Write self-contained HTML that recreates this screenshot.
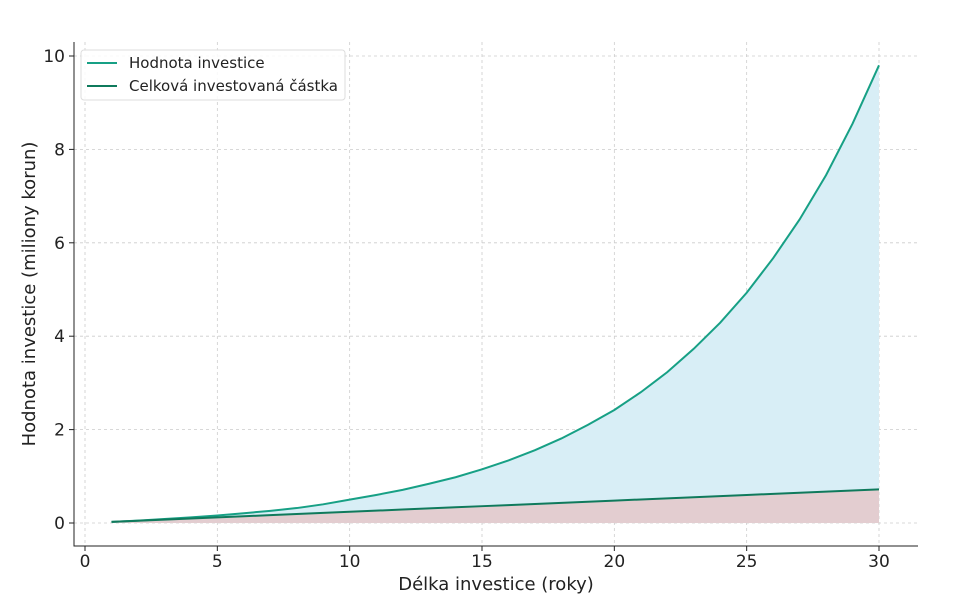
<!DOCTYPE html>
<html><head><meta charset="utf-8"><style>
body{margin:0;background:#fff;}
svg{display:block;font-family:"DejaVu Sans","Liberation Sans",sans-serif;}
</style></head><body>
<svg id="chart" width="955" height="602"></svg>
<script>
const years=[1,2,3,4,5,6,7,8,9,10,11,12,13,14,15,16,17,18,19,20,21,22,23,24,25,26,27,28,29,30];
const valueSeries=[0.024,0.05,0.085,0.12,0.16,0.21,0.26,0.32,0.40,0.50,0.60,0.71,0.84,0.98,1.15,1.34,1.56,1.81,2.10,2.42,2.80,3.23,3.73,4.29,4.93,5.67,6.50,7.45,8.55,9.80];
const investedSeries=[0.024,0.048,0.072,0.096,0.12,0.144,0.168,0.192,0.216,0.24,0.264,0.288,0.312,0.336,0.36,0.384,0.408,0.432,0.456,0.48,0.504,0.528,0.552,0.576,0.6,0.624,0.648,0.672,0.696,0.72];
const xTicks=[0,5,10,15,20,25,30];
const yTicks=[0,2,4,6,8,10];
const svgEl=document.getElementById('chart');
const NS='http://www.w3.org/2000/svg';
const X=v=>85+v*(879-85)/30;
const Y=v=>523-v*46.7;
function mk(t,a,p){const e=document.createElementNS(NS,t);for(const k in a)e.setAttribute(k,a[k]);(p||svgEl).appendChild(e);return e;}
xTicks.forEach(t=>{const l=mk('line',{x1:X(t),x2:X(t),y1:42,y2:546,stroke:'#ccc','stroke-dasharray':'3,3','stroke-width':0.8});

});
yTicks.forEach(t=>{const l=mk('line',{x1:74,x2:918,y1:Y(t),y2:Y(t),stroke:'#ccc','stroke-dasharray':'3,3','stroke-width':0.8});

});
const topPts=years.map((y,i)=>X(y)+','+Y(valueSeries[i])).join(' ');
const midPts=years.map((y,i)=>X(y)+','+Y(investedSeries[i])).join(' ');
const midRev=years.map((y,i)=>X(y)+','+Y(investedSeries[i])).reverse().join(' ');
const f1=mk('polygon',{points:topPts+' '+midRev,fill:'#d8eef6'});


const f2=mk('polygon',{points:midPts+' '+X(30)+','+Y(0)+' '+X(1)+','+Y(0),fill:'#e3cdd0'});


const l1=mk('polyline',{points:topPts,fill:'none',stroke:'#17a085','stroke-width':2});


const l2=mk('polyline',{points:midPts,fill:'none',stroke:'#0f7a5c','stroke-width':2});


const ax=mk('path',{d:'M74,42 V546 H918',fill:'none',stroke:'#222','stroke-width':1});


xTicks.forEach(t=>{mk('line',{x1:X(t),x2:X(t),y1:546,y2:551,stroke:'#222'});
const tx=mk('text',{x:X(t),y:567,'text-anchor':'middle','font-size':17,fill:'#222'});tx.textContent=t;

});
yTicks.forEach(t=>{mk('line',{x1:69,x2:74,y1:Y(t),y2:Y(t),stroke:'#222'});
const tx=mk('text',{x:65,y:Y(t)+6,'text-anchor':'end','font-size':17,fill:'#222'});tx.textContent=t;

});
const xt=mk('text',{x:496,y:590,'text-anchor':'middle','font-size':18,fill:'#222'});xt.textContent='Délka investice (roky)';


const yt=mk('text',{x:35,y:294,'text-anchor':'middle','font-size':18,fill:'#222',transform:'rotate(-90 35 294)'});yt.textContent='Hodnota investice (miliony korun)';


const lg=mk('g',{});


mk('rect',{x:81,y:50,width:264,height:50,rx:3,fill:'#fff','fill-opacity':0.85,stroke:'#ddd'},lg);
mk('line',{x1:87,x2:117,y1:63,y2:63,stroke:'#17a085','stroke-width':2},lg);
const a=mk('text',{x:129,y:68,'font-size':15,fill:'#222'},lg);a.textContent='Hodnota investice';


mk('line',{x1:87,x2:117,y1:86,y2:86,stroke:'#0f7a5c','stroke-width':2},lg);
const b=mk('text',{x:129,y:91,'font-size':15,fill:'#222'},lg);b.textContent='Celková investovaná částka';


</script>
</body></html>
